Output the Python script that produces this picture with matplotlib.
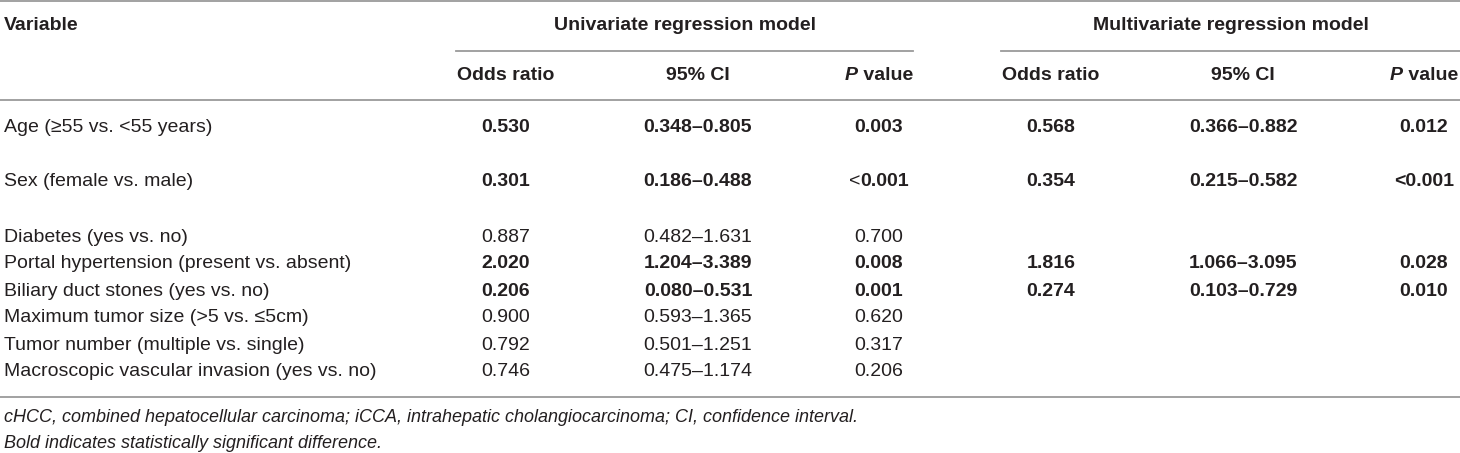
import matplotlib
matplotlib.use("Agg")
import matplotlib.pyplot as plt

plt.rcParams['font.family'] = ['Liberation Sans', 'DejaVu Sans']

variables = [
    "Age (≥55 vs. <55 years)",
    "Sex (female vs. male)",
    "Diabetes (yes vs. no)",
    "Portal hypertension (present vs. absent)",
    "Biliary duct stones (yes vs. no)",
    "Maximum tumor size (>5 vs. ≤5cm)",
    "Tumor number (multiple vs. single)",
    "Macroscopic vascular invasion (yes vs. no)",
]
uni_or = ["0.530", "0.301", "0.887", "2.020", "0.206", "0.900", "0.792", "0.746"]
uni_ci = ["0.348–0.805", "0.186–0.488", "0.482–1.631", "1.204–3.389",
          "0.080–0.531", "0.593–1.365", "0.501–1.251", "0.475–1.174"]
uni_p = ["0.003", "<0.001", "0.700", "0.008", "0.001", "0.620", "0.317", "0.206"]
multi_or = ["0.568", "0.354", "", "1.816", "0.274", "", "", ""]
multi_ci = ["0.366–0.882", "0.215–0.582", "", "1.066–3.095", "0.103–0.729", "", "", ""]
multi_p = ["0.012", "<0.001", "", "0.028", "0.010", "", "", ""]
significant = [True, True, False, True, True, False, False, False]

group_titles = ["Univariate regression model", "Multivariate regression model"]
sub_headers = ["Odds ratio", "95% CI", "P value"]
footnotes = [
    "cHCC, combined hepatocellular carcinoma; iCCA, intrahepatic cholangiocarcinoma; CI, confidence interval.",
    "Bold indicates statistically significant difference.",
]

W, H = 1460, 453
fig = plt.figure(figsize=(W / 100, H / 100), dpi=100)
ax = fig.add_axes([0, 0, 1, 1])
ax.set_xlim(0, W)
ax.set_ylim(H, 0)
ax.axis('off')

txt = '#231f20'
line_c = '#9a9a9a'
fs = 14

# layout
row_y = [127, 182, 237, 264, 291, 318, 345, 372]
group_span = [(456, 913), (1001, 1460)]
col_off = [50, 242, 423]
renderer = fig.canvas.get_renderer()


def mixed(x, y, parts):
    # parts: list of (string, weight, style); centred on x as one string
    objs = []
    for s, w, st in parts:
        t = ax.text(0, y, s, fontsize=fs, fontweight=w, fontstyle=st,
                    color=txt, ha='left', va='center')
        objs.append(t)
    widths = [t.get_window_extent(renderer).width for t in objs]
    cur = x - sum(widths) / 2
    for t, wd in zip(objs, widths):
        t.set_x(cur)
        cur += wd


# rules
ax.plot([0, W], [1, 1], color=line_c, lw=1.3)
ax.plot([0, W], [100, 100], color=line_c, lw=1.3)
ax.plot([0, W], [397, 397], color=line_c, lw=1.3)
for a, b in group_span:
    ax.plot([a, b], [51, 51], color=line_c, lw=1.3)

# headers
ax.text(4, 26, "Variable", fontsize=fs, fontweight='bold', color=txt, va='center')
for (a, b), title in zip(group_span, group_titles):
    ax.text((a + b) / 2, 26, title, fontsize=fs, fontweight='bold',
            color=txt, ha='center', va='center')
    for off, h in zip(col_off, sub_headers):
        if h.startswith("P "):
            mixed(a + off, 76, [("P", 'bold', 'italic'), (" value", 'bold', 'normal')])
        else:
            ax.text(a + off, 76, h, fontsize=fs, fontweight='bold',
                    color=txt, ha='center', va='center')

# body
for i, name in enumerate(variables):
    y = row_y[i]
    w = 'bold' if significant[i] else 'normal'
    ax.text(4, y, name, fontsize=fs, color=txt, va='center')
    for g, cols in enumerate([(uni_or, uni_ci, uni_p), (multi_or, multi_ci, multi_p)]):
        a = group_span[g][0]
        for off, col in zip(col_off, cols):
            val = col[i]
            if not val:
                continue
            if val.startswith("<") and g == 0:
                mixed(a + off, y, [("<", 'normal', 'normal'), (val[1:], w, 'normal')])
            else:
                ax.text(a + off, y, val, fontsize=fs, fontweight=w,
                        color=txt, ha='center', va='center')

for k, note in enumerate(footnotes):
    ax.text(4, 417 + 26 * k, note, fontsize=13, fontstyle='italic',
            color=txt, va='center')

fig.savefig("out.png", dpi=100)
